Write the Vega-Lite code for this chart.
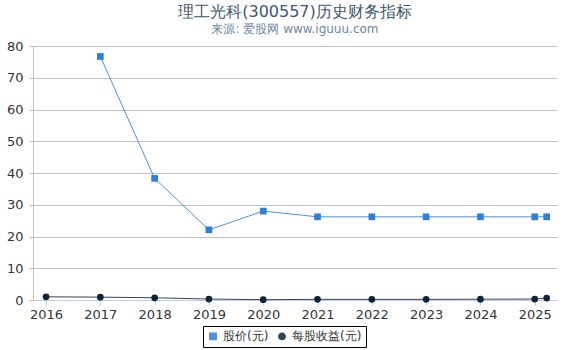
{
  "$schema": "https://vega.github.io/schema/vega-lite/v6.json",
  "width": 524,
  "height": 254,
  "autosize": "none",
  "padding": {"left": 33, "top": 46, "right": 13, "bottom": 50},
  "background": "white",
  "title": {
    "text": "理工光科(300557)历史财务指标",
    "subtitle": "来源: 爱股网 www.iguuu.com",
    "anchor": "middle",
    "font": "DejaVu Sans",
    "fontSize": 16,
    "fontWeight": "normal",
    "color": "#3E576F",
    "subtitleFont": "DejaVu Sans",
    "subtitleFontSize": 12,
    "subtitleColor": "#6D869F",
    "subtitlePadding": 4,
    "offset": 5
  },
  "data": {
    "values": [
      {"year": 2017, "series": "股价(元)", "value": 76.7},
      {"year": 2018, "series": "股价(元)", "value": 38.3},
      {"year": 2019, "series": "股价(元)", "value": 22.1},
      {"year": 2020, "series": "股价(元)", "value": 28.0},
      {"year": 2021, "series": "股价(元)", "value": 26.2},
      {"year": 2022, "series": "股价(元)", "value": 26.2},
      {"year": 2023, "series": "股价(元)", "value": 26.2},
      {"year": 2024, "series": "股价(元)", "value": 26.2},
      {"year": 2025, "series": "股价(元)", "value": 26.2},
      {"year": 2025.22, "series": "股价(元)", "value": 26.2},
      {"year": 2016, "series": "每股收益(元)", "value": 1.0},
      {"year": 2017, "series": "每股收益(元)", "value": 0.9},
      {"year": 2018, "series": "每股收益(元)", "value": 0.7},
      {"year": 2019, "series": "每股收益(元)", "value": 0.3},
      {"year": 2020, "series": "每股收益(元)", "value": 0.1},
      {"year": 2021, "series": "每股收益(元)", "value": 0.2},
      {"year": 2022, "series": "每股收益(元)", "value": 0.2},
      {"year": 2023, "series": "每股收益(元)", "value": 0.2},
      {"year": 2024, "series": "每股收益(元)", "value": 0.25},
      {"year": 2025, "series": "每股收益(元)", "value": 0.3},
      {"year": 2025.22, "series": "每股收益(元)", "value": 0.6}
    ]
  },
  "encoding": {
    "x": {
      "field": "year",
      "type": "quantitative",
      "scale": {"domain": [2015.76, 2025.41], "nice": false, "zero": false},
      "axis": {
        "title": null,
        "values": [2016, 2017, 2018, 2019, 2020, 2021, 2022, 2023, 2024, 2025],
        "format": "d",
        "grid": false,
        "domainColor": "#C0D0E0",
        "tickColor": "#C0D0E0",
        "tickSize": 5,
        "labelFont": "DejaVu Sans",
        "labelFontSize": 13,
        "labelColor": "#333333",
        "labelPadding": 3
      }
    },
    "y": {
      "field": "value",
      "type": "quantitative",
      "scale": {"domain": [0, 80], "nice": false},
      "axis": {
        "title": null,
        "values": [0, 10, 20, 30, 40, 50, 60, 70, 80],
        "gridColor": "#C0C0C0",
        "domainColor": "#C0C0C0",
        "tickColor": "#C0C0C0",
        "tickSize": 4,
        "labelFont": "DejaVu Sans",
        "labelFontSize": 13,
        "labelColor": "#333333",
        "labelPadding": 6
      }
    },
    "color": {
      "field": "series",
      "type": "nominal",
      "scale": {"domain": ["股价(元)", "每股收益(元)"], "range": ["#2F7ED8", "#0D233A"]},
      "legend": {
        "title": null,
        "orient": "none",
        "legendX": 170,
        "legendY": 280,
        "direction": "horizontal",
        "strokeColor": "#000000",
        "padding": 4,
        "labelFont": "DejaVu Sans",
        "labelFontSize": 12,
        "labelColor": "#333333",
        "symbolSize": 40,
        "columnPadding": 6
      }
    }
  },
  "layer": [
    {
      "mark": {"type": "line", "strokeWidth": 1, "opacity": 0.85}
    },
    {
      "mark": {"type": "point", "filled": true, "opacity": 1, "size": 45},
      "encoding": {
        "shape": {
          "field": "series",
          "type": "nominal",
          "scale": {"domain": ["股价(元)", "每股收益(元)"], "range": ["square", "circle"]},
          "legend": null
        }
      }
    }
  ],
  "config": {"view": {"stroke": null}}
}
